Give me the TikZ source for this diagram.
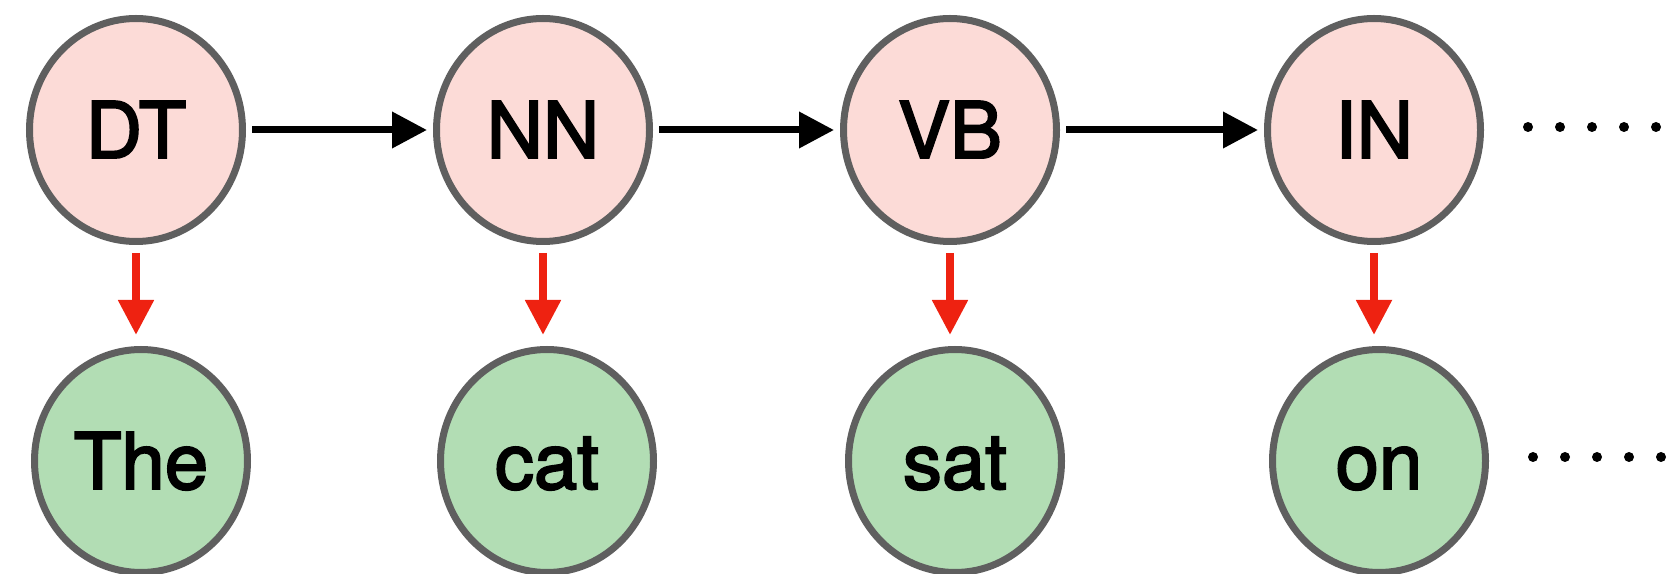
\documentclass[tikz,border=0pt]{standalone}
\usepackage{fontspec}
\setmainfont{TeX Gyre Heros}
\newfontfamily\tagfont{TeX Gyre Heros}[FakeBold=2.5]
\usetikzlibrary{shapes.geometric,arrows.meta}
\definecolor{tagpink}{HTML}{FCDBD7}
\definecolor{wordgreen}{HTML}{B2DDB4}
\definecolor{rimgray}{HTML}{5F5F5F}
\definecolor{emitred}{HTML}{EE2211}
\begin{document}
\begin{tikzpicture}[x=1pt, y=1pt]
			\tikzstyle{Tag} = [ellipse, draw=rimgray, line width=7pt, minimum width=213pt, minimum height=223pt, inner sep=0pt, text height=56pt, text depth=0pt, font=\tagfont\fontsize{78}{90}\selectfont, fill=tagpink]
			\tikzstyle{Word} = [Tag, fill=wordgreen]
			\tikzstyle{Trans} = [-{Triangle[length=35pt, width=35pt]}, line width=7pt, shorten <=6pt, shorten >=6pt]
			\tikzstyle{Emit} = [-{Triangle[length=35pt, width=34pt]}, emitred, line width=8pt, shorten <=8pt, shorten >=11pt]
			\useasboundingbox (0,0) rectangle (1670,573);
			\node (t1) at (136,443) [Tag] {DT};
			\node (t2) at (543,443) [Tag] {NN};
			\node (t3) at (950,443) [Tag] {VB};
			\node (t4) at (1374,443) [Tag] {IN};
			\node (w1) at (141,112) [Word] {The};
			\node (w2) at (547,112) [Word] {cat};
			\node (w3) at (955,112) [Word] {sat};
			\node (w4) at (1379,112) [Word] {on};
			\draw [Trans] (t1) to (t2);
			\draw [Trans] (t2) to (t3);
			\draw [Trans] (t3) to (t4);
			\draw [Emit] (t1.south) to (t1.south |- w1.north);
			\draw [Emit] (t2.south) to (t2.south |- w2.north);
			\draw [Emit] (t3.south) to (t3.south |- w3.north);
			\draw [Emit] (t4.south) to (t4.south |- w4.north);
			\foreach \i in {0,...,4} {
				\fill (1528+32*\i,446) circle (5pt);
				\fill (1533+32*\i,116) circle (5pt);
			}
		\end{tikzpicture}
\end{document}
